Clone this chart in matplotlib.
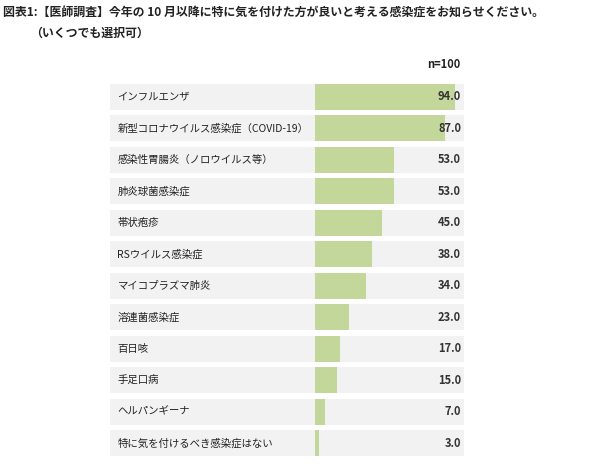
import matplotlib
matplotlib.use("Agg")
import matplotlib.pyplot as plt

plt.rcParams['font.family'] = ['Noto Sans CJK JP', 'DejaVu Sans']

categories = ["インフルエンザ", "新型コロナウイルス感染症（COVID-19）", "感染性胃腸炎（ノロウイルス等）",
              "肺炎球菌感染症", "帯状疱疹", "RSウイルス感染症", "マイコプラズマ肺炎", "溶連菌感染症",
              "百日咳", "手足口病", "ヘルパンギーナ", "特に気を付けるべき感染症はない"]
values = [94.0, 87.0, 53.0, 53.0, 45.0, 38.0, 34.0, 23.0, 17.0, 15.0, 7.0, 3.0]

W, H = 599, 471
fig = plt.figure(figsize=(W/100, H/100), dpi=100)
left, right, top, bottom = 110, 464, 81, 459
ax = fig.add_axes([left/W, (H-bottom)/H, (right-left)/W, (bottom-top)/H])
xmin = -205/1.49
n = len(categories)
ys = list(range(n))
ax.barh(ys, [100 - xmin]*n, left=xmin, height=0.82, color='#f2f2f2', zorder=0)
ax.barh(ys, values, left=0, height=0.82, color='#c4d79b', zorder=1)
for y, c, v in zip(ys, categories, values):
    ax.text(xmin + 5, y, c, va='center', ha='left', fontsize=7.5, color='#222222')
    ax.text(98, y, f"{v:.1f}", va='center', ha='right', fontsize=8, fontweight='bold', color='#333333', zorder=2)
ax.set_xlim(xmin, 100)
ax.set_ylim(n - 0.5, -0.5)
ax.axis('off')

fig.text(3/W, 1 - 12/H, "図表1:【医師調査】今年の 10 月以降に特に気を付けた方が良いと考える感染症をお知らせください。",
         fontsize=8.6, fontweight='bold', va='center', ha='left', color='#222222')
fig.text(30/W, 1 - 33/H, "（いくつでも選択可）", fontsize=8.6, fontweight='bold', va='center', ha='left', color='#222222')
fig.text(460/W, 1 - 65/H, "n=100", fontsize=8, fontweight='bold', va='center', ha='right', color='#222222')

fig.savefig("out.png", dpi=100)
